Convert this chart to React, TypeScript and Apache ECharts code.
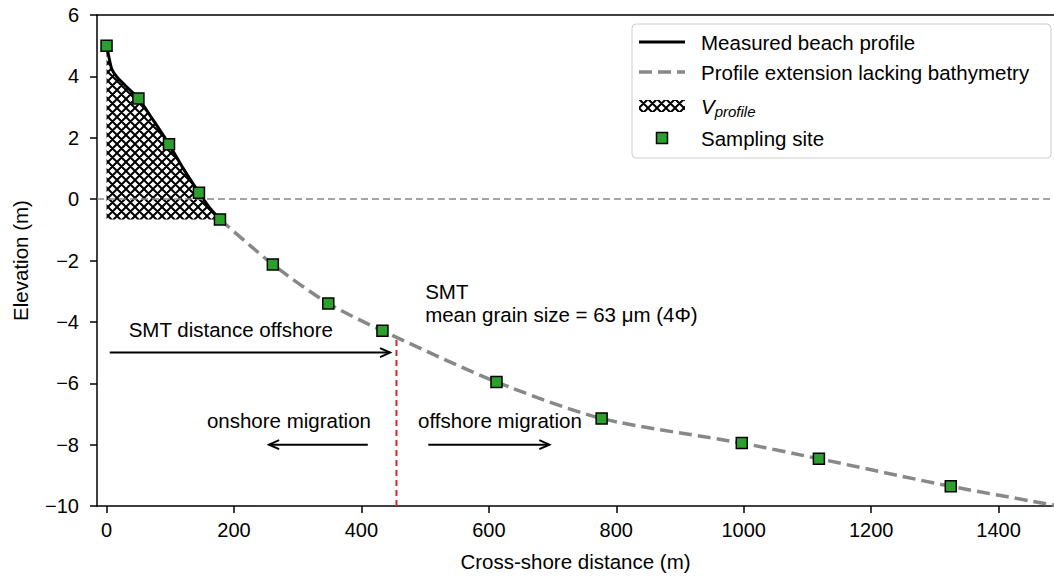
import React, { useEffect, useRef } from "react";
import * as echarts from "echarts";

// ---------- data ----------
const xTicks = [0, 200, 400, 600, 800, 1000, 1200, 1400];

// measured beach profile (black line)
const profileX = [0, 3, 8, 16, 31, 50, 73, 98, 120, 145, 162, 178];
const profileY = [5.0, 4.7, 4.25, 3.99, 3.67, 3.28, 2.58, 1.79, 1.01, 0.21, -0.29, -0.66];

// profile extension lacking bathymetry (grey dashed)
const extX = [178, 261, 348, 433, 612, 777, 997, 1118, 1325, 1495];
const extY = [-0.66, -2.13, -3.4, -4.29, -5.96, -7.15, -7.95, -8.46, -9.36, -10.0];

// sampling sites
const siteX = [0, 50, 98, 145, 178, 261, 348, 433, 612, 777, 997, 1118, 1325];
const siteY = [5.0, 3.28, 1.79, 0.21, -0.66, -2.13, -3.4, -4.29, -5.96, -7.15, -7.95, -8.46, -9.36];

// V_profile lower bound
const vProfileBase = -0.66;

// SMT position
const smtX = 455;
const smtYTop = -4.57;
const smtYBottom = -10;

// annotation arrows [x1, y1, x2, y2]
const arrowStartX = [5, 410, 505];
const arrowStartY = [-5, -8, -8];
const arrowEndX = [445, 255, 695];
const arrowEndY = [-5, -8, -8];

// annotation texts
const annoText = [
  "SMT distance offshore",
  "SMT",
  "mean grain size = 63 μm (4Φ)",
  "onshore migration",
  "offshore migration",
];
const annoX = [195, 500, 500, 415, 489];
const annoY = [-4.25, -3.0, -3.76, -7.2, -7.2];
const annoAlign = ["center", "left", "left", "right", "left"];

// legend labels
const legendLabels = [
  "Measured beach profile",
  "Profile extension lacking bathymetry",
  "V_profile",
  "Sampling site",
];

const FONT = "'Liberation Sans', Arial, sans-serif";
const GREEN = "#2ca02c";
const GREY = "#888888";

const TILE = 9;

function makeHatch(): any {
  const c = document.createElement("canvas");
  c.width = TILE;
  c.height = TILE;
  const ctx = c.getContext("2d")!;
  ctx.fillStyle = "#ffffff";
  ctx.fillRect(0, 0, TILE, TILE);
  ctx.strokeStyle = "#000000";
  ctx.lineWidth = 2;
  ctx.beginPath();
  for (const off of [-TILE, 0, TILE]) {
    ctx.moveTo(off - 1, -1);
    ctx.lineTo(off + TILE + 1, TILE + 1);
    ctx.moveTo(off + TILE + 1, -1);
    ctx.lineTo(off - 1, TILE + 1);
  }
  ctx.stroke();
  return {
    image: c.toDataURL("image/png"),
    repeat: "repeat",
    imageWidth: TILE,
    imageHeight: TILE,
  };
}

const fmtMinus = (v: number) => (v < 0 ? "\u2212" + Math.abs(v) : String(v));

export default function App() {
  const ref = useRef<HTMLDivElement>(null);

  useEffect(() => {
    if (!ref.current) return;
    const chart = echarts.init(ref.current, null, { renderer: "svg" });

    const profileData = profileX.map((x, i) => [x, profileY[i]]);
    const extData = extX.map((x, i) => [x, extY[i]]);
    const siteData = siteX.map((x, i) => [x, siteY[i]]);
    const arrowData = arrowStartX.map((x, i) => [x, arrowStartY[i], arrowEndX[i], arrowEndY[i]]);
    const textData = annoX.map((x, i) => [x, annoY[i]]);

    const legX = 632;
    const legY = 24;
    const rowY = [42, 72, 106, 138];

    const option: any = {
      animation: false,
      backgroundColor: "#ffffff",
      textStyle: { fontFamily: FONT },
      grid: { left: 97, top: 15, right: 0, bottom: 72, containLabel: false },
      xAxis: [
        {
          type: "value",
          min: -15,
          max: 1487,
          name: "Cross-shore distance (m)",
          nameLocation: "middle",
          nameGap: 45,
          nameTextStyle: { fontSize: 20.5, color: "#000", fontFamily: FONT },
          axisLine: { show: true, onZero: false, lineStyle: { color: "#000", width: 1.5 } },
          axisTick: { show: true, length: 7, lineStyle: { color: "#000", width: 1.5 }, customValues: xTicks },
          axisLabel: {
            color: "#000",
            fontSize: 20,
            fontFamily: FONT,
            margin: 14,
            customValues: xTicks,
            formatter: (v: number) => fmtMinus(v),
          },
          splitLine: { show: false },
        },
        {
          type: "value",
          position: "top",
          min: -15,
          max: 1487,
          axisLine: { show: true, onZero: false, lineStyle: { color: "#000", width: 1.5 } },
          axisTick: { show: false },
          axisLabel: { show: false },
          splitLine: { show: false },
        },
      ],
      yAxis: {
        type: "value",
        min: -10,
        max: 6,
        interval: 2,
        name: "Elevation (m)",
        nameLocation: "middle",
        nameGap: 66,
        nameTextStyle: { fontSize: 20.5, color: "#000", fontFamily: FONT },
        axisLine: { show: true, onZero: false, lineStyle: { color: "#000", width: 1.5 } },
        axisTick: { show: true, length: 7, lineStyle: { color: "#000", width: 1.5 } },
        axisLabel: {
          color: "#000",
          fontSize: 20,
          fontFamily: FONT,
          margin: 18,
          formatter: (v: number) => fmtMinus(v),
        },
        splitLine: { show: false },
      },
      series: [
        {
          name: "Measured beach profile",
          type: "line",
          data: profileData,
          showSymbol: false,
          symbol: "none",
          smooth: 0.2,
          lineStyle: { color: "#000", width: 3 },
          areaStyle: { color: makeHatch(), opacity: 1, origin: vProfileBase },
          z: 2,
        },
        {
          name: "Profile extension lacking bathymetry",
          type: "line",
          data: extData,
          symbol: "none",
          smooth: 0.25,
          lineStyle: { color: GREY, width: 3.5, type: [13, 6] },
          markLine: {
            silent: true,
            symbol: "none",
            label: { show: false },
            lineStyle: { color: GREY, width: 1.5, type: [7, 4] },
            data: [{ yAxis: 0 }],
          },
          z: 3,
        },
        {
          name: "SMT",
          type: "line",
          data: [
            [smtX, smtYBottom],
            [smtX, smtYTop],
          ],
          symbol: "none",
          lineStyle: { color: "#d62728", width: 2, type: [6, 4] },
          z: 3,
        },
        {
          name: "arrows",
          type: "custom",
          data: arrowData,
          encode: { x: [0, 2], y: [1, 3] },
          silent: true,
          z: 4,
          renderItem: (params: any, api: any) => {
            const p1 = api.coord([api.value(0), api.value(1)]);
            const p2 = api.coord([api.value(2), api.value(3)]);
            const ang = Math.atan2(p2[1] - p1[1], p2[0] - p1[0]);
            const L = 11;
            const w = 0.42;
            const a1 = [p2[0] - L * Math.cos(ang - w), p2[1] - L * Math.sin(ang - w)];
            const a2 = [p2[0] - L * Math.cos(ang + w), p2[1] - L * Math.sin(ang + w)];
            return {
              type: "group",
              children: [
                {
                  type: "line",
                  shape: { x1: p1[0], y1: p1[1], x2: p2[0], y2: p2[1] },
                  style: { stroke: "#000", lineWidth: 2 },
                },
                {
                  type: "polyline",
                  shape: { points: [a1, p2, a2] },
                  style: { stroke: "#000", lineWidth: 2, fill: null },
                },
              ],
            };
          },
        },
        {
          name: "texts",
          type: "custom",
          data: textData,
          encode: { x: 0, y: 1 },
          silent: true,
          z: 5,
          renderItem: (params: any, api: any) => {
            const p = api.coord([api.value(0), api.value(1)]);
            const i = params.dataIndex;
            return {
              type: "text",
              x: p[0],
              y: p[1],
              style: {
                text: annoText[i],
                fontSize: 20.5,
                fontFamily: FONT,
                fill: "#000",
                align: annoAlign[i],
                verticalAlign: "middle",
              },
            };
          },
        },
        {
          name: "Sampling site",
          type: "scatter",
          data: siteData,
          symbol: "rect",
          symbolSize: 11,
          itemStyle: { color: GREEN, borderColor: "#000", borderWidth: 1.5, opacity: 1 },
          z: 6,
        },
      ],
      graphic: [
        {
          type: "group",
          z: 100,
          children: [
            {
              type: "rect",
              shape: { x: legX, y: legY, width: 419, height: 134, r: 4 },
              style: { fill: "rgba(255,255,255,0.85)", stroke: "#cccccc", lineWidth: 1 },
            },
            {
              type: "line",
              shape: { x1: 639, y1: rowY[0], x2: 685, y2: rowY[0] },
              style: { stroke: "#000", lineWidth: 3 },
            },
            {
              type: "line",
              shape: { x1: 639, y1: rowY[1], x2: 685, y2: rowY[1] },
              style: { stroke: GREY, lineWidth: 3.5, lineDash: [13, 6] },
            },
            {
              type: "rect",
              shape: { x: 639, y: rowY[2] - 6, width: 46, height: 12 },
              style: { fill: makeHatch(), stroke: null },
            },
            {
              type: "rect",
              shape: { x: 656.5, y: rowY[3] - 5.5, width: 11, height: 11 },
              style: { fill: GREEN, stroke: "#000", lineWidth: 1.5 },
            },
            {
              type: "text",
              x: 701,
              y: rowY[0],
              style: { text: legendLabels[0], fontSize: 20.5, fontFamily: FONT, fill: "#000", verticalAlign: "middle" },
            },
            {
              type: "text",
              x: 701,
              y: rowY[1],
              style: { text: legendLabels[1], fontSize: 20.5, fontFamily: FONT, fill: "#000", verticalAlign: "middle" },
            },
            {
              type: "text",
              x: 701,
              y: rowY[2],
              style: {
                text: "{v|V}{s|profile}",
                fontFamily: FONT,
                fill: "#000",
                verticalAlign: "middle",
                rich: {
                  v: { fontSize: 20.5, fontStyle: "italic", fontFamily: FONT, fill: "#000" },
                  s: { fontSize: 15, fontStyle: "italic", fontFamily: FONT, fill: "#000", padding: [10, 0, 0, 0] },
                },
              },
            },
            {
              type: "text",
              x: 701,
              y: rowY[3],
              style: { text: legendLabels[3], fontSize: 20.5, fontFamily: FONT, fill: "#000", verticalAlign: "middle" },
            },
          ],
        },
      ],
    };

    chart.setOption(option);
    return () => chart.dispose();
  }, []);

  return (
    <div
      ref={ref}
      style={{ position: "fixed", left: 0, top: 0, width: 1054, height: 578, background: "#fff" }}
    />
  );
}
